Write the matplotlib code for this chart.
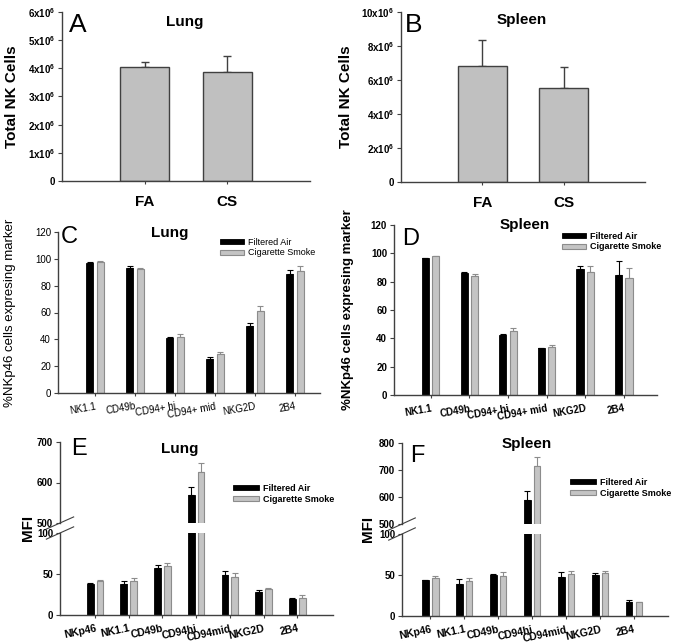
import numpy as np
import matplotlib
matplotlib.use('Agg')
import matplotlib.pyplot as plt

plt.rcParams['font.family'] = ['Liberation Sans', 'DejaVu Sans']
plt.rcParams['mathtext.fontset'] = 'custom'
plt.rcParams['mathtext.rm'] = 'Liberation Sans'
plt.rcParams['mathtext.bf'] = 'Liberation Sans:bold'

# ---- data ----
# A / B: total NK cells
groups_ab = ['FA', 'CS']
lung_total = [4.03e6, 3.87e6]
lung_total_err = [0.2e6, 0.58e6]
spleen_total = [6.82e6, 5.53e6]
spleen_total_err = [1.53e6, 1.22e6]

# C / D: % NKp46 cells expressing marker
markers_cd = ['NK1.1', 'CD49b', 'CD94+ hi', 'CD94+ mid', 'NKG2D', '2B4']
lung_pct_fa = [97, 93.5, 41, 25, 50, 88.5]
lung_pct_fa_err = [0.5, 0.8, 1, 1.5, 2, 3.5]
lung_pct_cs = [98, 92.5, 41.5, 29, 61, 91]
lung_pct_cs_err = [0.4, 0.4, 2.2, 1.8, 3.5, 4]
spleen_pct_fa = [96.5, 86, 42.5, 33, 89, 84.5]
spleen_pct_fa_err = [0.4, 0.5, 0.5, 0.3, 2, 10]
spleen_pct_cs = [98, 84, 45, 34, 86.5, 82.5]
spleen_pct_cs_err = [0.3, 1.5, 2.2, 1.5, 4.3, 7]

# E / F: MFI
markers_ef = ['NKp46', 'NK1.1', 'CD49b', 'CD94hi', 'CD94mid', 'NKG2D', '2B4']
lung_mfi_fa = [38, 37.3, 57.8, 569, 48.8, 27.5, 19.7]
lung_mfi_fa_err = [1, 4, 3.7, 19, 5, 2.8, 1.5]
lung_mfi_cs = [41.5, 41, 60, 625, 46.3, 32, 21.3]
lung_mfi_cs_err = [1, 4, 3, 23, 4.7, 0.8, 2.5]
spleen_mfi_fa = [43.9, 38.9, 49.6, 588, 47.5, 50.4, 17.6]
spleen_mfi_fa_err = [0.5, 5.8, 2, 36, 5.8, 2.5, 2]
spleen_mfi_cs = [46.3, 43, 48.4, 715, 51.6, 52.9, 17.2]
spleen_mfi_cs_err = [2.1, 3.3, 4.9, 32, 3.7, 2.4, 0.4]

W, H = 675, 644
fig = plt.figure(figsize=(W / 100, H / 100), dpi=100)

FA_COL = 'black'
CS_COL = '#c4c4c4'
CS_EDGE = '#8c8c8c'


def px_axes(left, top, right, bottom):
    return fig.add_axes([left / W, 1 - bottom / H, (right - left) / W, (bottom - top) / H])


def ftext(x, y, s, **kw):
    fig.text(x / W, 1 - y / H, s, **kw)


def style_axes(ax, lw=1.0):
    for side in ['top', 'right']:
        ax.spines[side].set_visible(False)
    for side in ['left', 'bottom']:
        ax.spines[side].set_linewidth(lw)
        ax.spines[side].set_color('#404040')
    ax.tick_params(direction='out', length=3, width=0.8, color='#404040', pad=2)


# ---- A and B ----
def total_panel(box, vals, errs, ymax, step, letter, title, letter_xy, title_xy, ylab_x):
    ax = px_axes(*box)
    x = np.arange(len(groups_ab))
    ax.bar(x, vals, width=0.6, color='#c0c0c0', edgecolor='#404040', linewidth=1.0, zorder=2)
    ax.errorbar(x, vals, yerr=[np.zeros(len(vals)), errs], fmt='none', ecolor='#404040',
                elinewidth=1.0, capsize=3, capthick=1.0, zorder=1)
    ax.set_xlim(-1, 2)
    ax.set_ylim(0, ymax)
    ticks = np.arange(0, ymax + 1, step)
    ax.set_yticks(ticks)
    labs = ['0'] + [r'$\mathbf{%dx10^{6}}$' % int(t / 1e6) for t in ticks[1:]]
    ax.set_yticklabels(labs, fontsize=7, fontweight='bold')
    ax.set_xticks(x)
    ax.set_xticklabels(groups_ab, fontsize=11, fontweight='bold')
    style_axes(ax)
    ax.tick_params(axis='x', length=2, pad=8)
    ftext(*letter_xy, letter, fontsize=19, va='center', ha='left')
    ftext(*title_xy, title, fontsize=11, fontweight='bold', va='center', ha='center')
    ftext(ylab_x, (box[1] + box[3]) / 2, 'Total NK Cells', fontsize=11, fontweight='bold',
          rotation=90, va='center', ha='center')
    return ax


total_panel((62, 12, 310, 181), lung_total, lung_total_err, 6e6, 1e6, 'A', 'Lung',
            (69, 25), (185, 22), 12)
total_panel((401, 12, 645, 182), spleen_total, spleen_total_err, 10e6, 2e6, 'B', 'Spleen',
            (405, 25), (522, 20), 346)


# ---- grouped bar helper ----
def grouped(ax, fa, fa_err, cs, cs_err, off, width, cap):
    x = np.arange(len(fa))
    ax.bar(x - off, fa, width=width, color=FA_COL, edgecolor=FA_COL, linewidth=0.6,
           zorder=2, label='Filtered Air')
    ax.bar(x + off, cs, width=width, color=CS_COL, edgecolor=CS_EDGE, linewidth=0.8,
           zorder=2, label='Cigarette Smoke')
    ax.errorbar(x - off, fa, yerr=[np.zeros(len(fa)), fa_err], fmt='none', ecolor=FA_COL,
                elinewidth=0.8, capsize=cap, capthick=0.8, zorder=1)
    ax.errorbar(x + off, cs, yerr=[np.zeros(len(cs)), cs_err], fmt='none', ecolor=CS_EDGE,
                elinewidth=0.8, capsize=cap, capthick=0.8, zorder=1)
    return x


# ---- C and D ----
def pct_panel(box, fa, fa_err, cs, cs_err, xlim, letter, title, letter_xy, title_xy,
              ylab_x, leg_xy, bold):
    ax = px_axes(*box)
    x = grouped(ax, fa, fa_err, cs, cs_err, 0.135, 0.185, 2)
    ax.set_xlim(*xlim)
    ax.set_ylim(0, 120)
    ax.set_yticks(np.arange(0, 121, 20))
    ax.set_xticks(x)
    wt = 'bold' if bold else 'normal'
    ax.set_xticklabels(markers_cd, fontsize=7, fontweight=wt, rotation=10,
                       ha='right', rotation_mode='anchor')
    for t in ax.get_yticklabels():
        t.set_fontsize(7)
        t.set_fontweight(wt)
    style_axes(ax)
    ax.tick_params(axis='x', length=2, pad=4)
    ftext(*letter_xy, letter, fontsize=17, va='center', ha='left')
    ftext(*title_xy, title, fontsize=11, fontweight='bold', va='center', ha='center')
    ftext(ylab_x, (box[1] + box[3]) / 2, '%NKp46 cells expresing marker', fontsize=9.5,
          fontweight=wt, rotation=90, va='center', ha='center')
    leg = ax.legend(loc='upper left', bbox_to_anchor=(leg_xy[0] / W, 1 - leg_xy[1] / H),
                    bbox_transform=fig.transFigure, frameon=False, fontsize=6.5,
                    handlelength=2.7, handleheight=0.5, handletextpad=0.4,
                    labelspacing=0.15, borderpad=0, borderaxespad=0)
    for t in leg.get_texts():
        t.set_fontweight(wt)
    return ax


pct_panel((58, 232, 320, 393), lung_pct_fa, lung_pct_fa_err, lung_pct_cs, lung_pct_cs_err,
          (-0.925, 5.625), 'C', 'Lung', (61, 237), (170, 233), 10, (220, 238), False)
pct_panel((394, 225, 657, 395), spleen_pct_fa, spleen_pct_fa_err, spleen_pct_cs,
          spleen_pct_cs_err, (-0.95, 5.86), 'D', 'Spleen', (402, 239), (525, 225), 348,
          (562, 232), True)


# ---- E and F (broken axis) ----
def mfi_panel(left, right, up_top, up_bot, lo_top, lo_bot, upper_lim, upper_ticks,
              fa, fa_err, cs, cs_err, xlim, letter, title, letter_xy, title_xy,
              ylab_x, leg_xy):
    ax_up = px_axes(left, up_top, right, up_bot)
    ax_lo = px_axes(left, lo_top, right, lo_bot)
    for ax in (ax_up, ax_lo):
        x = grouped(ax, fa, fa_err, cs, cs_err, 0.145, 0.2, 2)
        ax.set_xlim(*xlim)
        style_axes(ax)
    ax_up.set_ylim(*upper_lim)
    ax_up.set_yticks(upper_ticks)
    ax_up.set_yticklabels([str(t) for t in upper_ticks], fontsize=7, fontweight='bold')
    ax_up.spines['bottom'].set_visible(False)
    ax_up.set_xticks([])
    ax_lo.set_ylim(0, 100)
    ax_lo.set_yticks([0, 50, 100])
    ax_lo.set_yticklabels(['0', '50', '100'], fontsize=7, fontweight='bold')
    ax_lo.set_xticks(x)
    ax_lo.set_xticklabels(markers_ef, fontsize=7.5, fontweight='bold', rotation=12,
                          ha='right', rotation_mode='anchor')
    ax_lo.tick_params(axis='x', length=2, pad=4)
    # break marks
    kw = dict(color='#404040', lw=0.8, clip_on=False)
    ax_up.plot([-0.05, 0.05], [-0.075, 0.075], transform=ax_up.transAxes, **kw)
    ax_lo.plot([-0.05, 0.05], [0.925, 1.075], transform=ax_lo.transAxes, **kw)
    ftext(*letter_xy, letter, fontsize=17, va='center', ha='left')
    ftext(*title_xy, title, fontsize=11, fontweight='bold', va='center', ha='center')
    ftext(ylab_x, (up_bot + lo_top) / 2, 'MFI', fontsize=11, fontweight='bold',
          rotation=90, va='center', ha='center')
    leg = ax_up.legend(loc='upper left', bbox_to_anchor=(leg_xy[0] / W, 1 - leg_xy[1] / H),
                       bbox_transform=fig.transFigure, frameon=False, fontsize=6.5,
                       handlelength=2.9, handleheight=0.5, handletextpad=0.4,
                       labelspacing=0.2, borderpad=0, borderaxespad=0)
    for t in leg.get_texts():
        t.set_fontweight('bold')


mfi_panel(60, 333, 442, 523, 533, 615, (500, 700), [500, 600, 700],
          lung_mfi_fa, lung_mfi_fa_err, lung_mfi_cs, lung_mfi_cs_err, (-1.04, 7.06),
          'E', 'Lung', (71, 449), (180, 449), 28, (233, 484))
mfi_panel(402, 668, 443, 524, 534, 616, (500, 800), [500, 600, 700, 800],
          spleen_mfi_fa, spleen_mfi_fa_err, spleen_mfi_cs, spleen_mfi_cs_err, (-0.83, 7.0),
          'F', 'Spleen', (410, 456), (527, 444), 368, (570, 478))

fig.savefig('out.png', dpi=100)
